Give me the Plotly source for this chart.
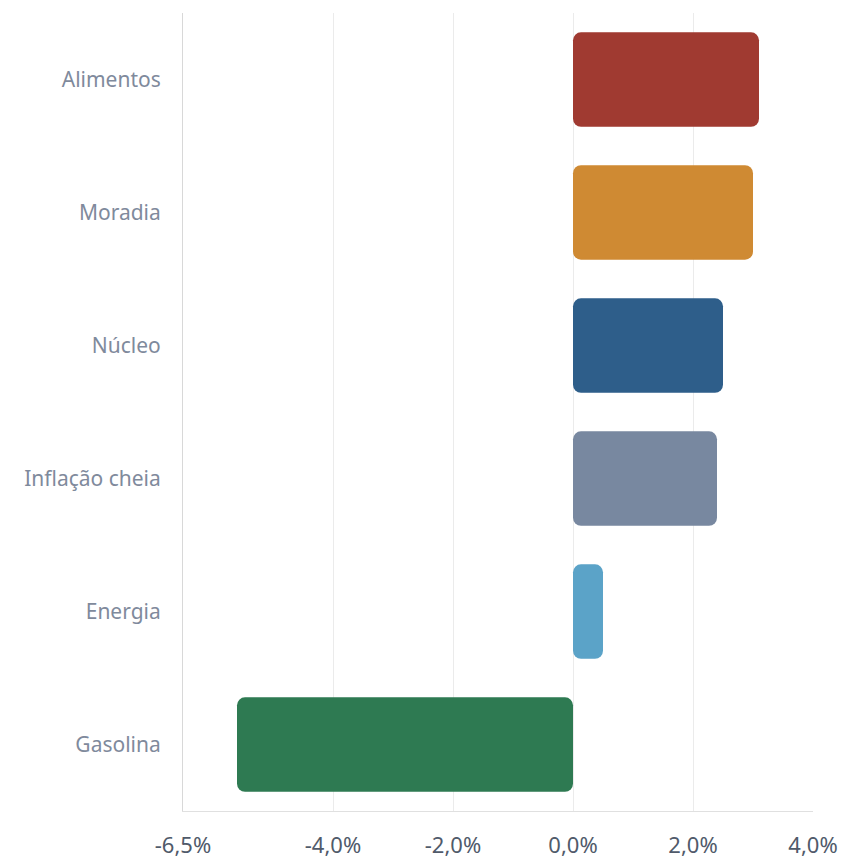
import plotly.graph_objects as go

categories = ["Alimentos", "Moradia", "Núcleo", "Inflação cheia", "Energia", "Gasolina"]
values = [3.1, 3.0, 2.5, 2.4, 0.5, -5.6]
colors = ["#a03a31", "#cf8a33", "#2e5e8a", "#7888a0", "#5ba3c8", "#2e7a52"]
tick_vals = [-6.5, -4, -2, 0, 2, 4]
tick_text = ["-6,5%", "-4,0%", "-2,0%", "0,0%", "2,0%", "4,0%"]

fig = go.Figure(go.Bar(
    y=categories, x=values, base=[0] * len(values), orientation="h",
    marker=dict(color=colors, cornerradius=8, line=dict(width=0)),
    hoverinfo="skip",
))

fig.update_layout(
    width=842, height=860,
    margin=dict(l=183, r=29, t=13, b=49),
    paper_bgcolor="white", plot_bgcolor="white",
    bargap=0.29,
    showlegend=False,
    font=dict(family="Noto Sans, Roboto, sans-serif"),
)
fig.update_xaxes(
    range=[-6.5, 4], tickvals=tick_vals, ticktext=tick_text,
    showgrid=True, gridcolor="#ebebeb", gridwidth=1,
    zeroline=False, automargin=False,
    showline=True, linecolor="#e0e0e0", linewidth=1,
    ticks="outside", ticklen=15, tickcolor="rgba(0,0,0,0)",
    tickfont=dict(size=22, color="#505a6a"),
)
fig.update_yaxes(
    categoryorder="array", categoryarray=categories[::-1],
    showgrid=False, zeroline=False, automargin=False,
    showline=True, linecolor="#d8d8d8", linewidth=1,
    ticks="outside", ticklen=17, tickcolor="rgba(0,0,0,0)",
    tickfont=dict(size=21, color="#7f8a9c"),
)

fig.write_html("out.html", config={"displayModeBar": False},
               post_script="document.body.style.margin='0';")
